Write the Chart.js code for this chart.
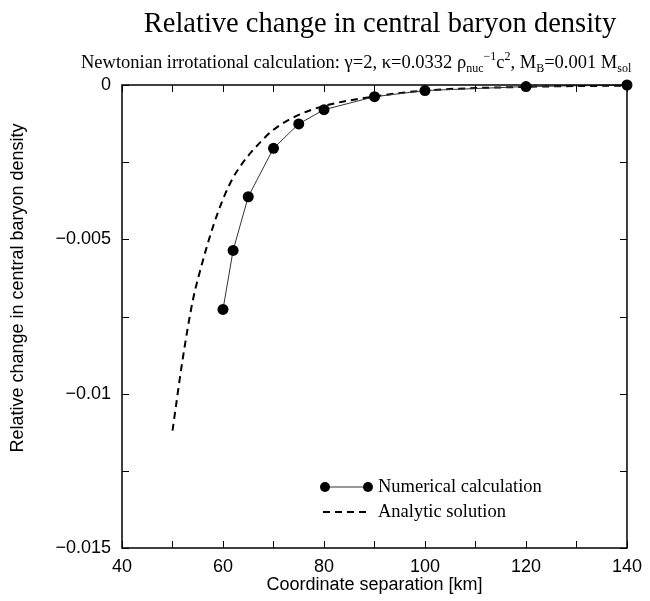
<!DOCTYPE html>
<html>
<head>
<meta charset="utf-8">
<script src="https://cdn.jsdelivr.net/npm/chart.js@4.4.0/dist/chart.umd.min.js"></script>
<style>
    html, body { margin: 0; padding: 0; background: #fff; }
    #wrap { width: 650px; height: 601px; }
</style>
</head>
<body>
<div id="wrap"><canvas id="densityChart"></canvas></div>
<script>
// Numerical calculation (filled dots)
const numSeparation = [60, 62, 65, 70, 75, 80, 90, 100, 120, 140];
const numDensity = [-0.00727, -0.00536, -0.00362, -0.00205, -0.00126, -0.0008, -0.00038, -0.00018, -0.00005, 0];

// Analytic solution (dashed curve)
const anaSeparation = [50, 52, 54, 56, 58, 60, 62, 64, 66, 70, 75, 80, 90, 100, 120, 140];
const anaDensity = [-0.0112, -0.0089, -0.0070, -0.0057, -0.0046, -0.0037, -0.0030, -0.0025, -0.0021, -0.00145, -0.00097, -0.00068, -0.00037, -0.00018, -0.00006, -0.00002];

// Labelled ticks
const xTickLabels = [40, 60, 80, 100, 120, 140];
const yTickLabels = [0, -0.005, -0.01, -0.015];

const seriesNames = ['Numerical calculation', 'Analytic solution'];
const yTitle = 'Relative change in central baryon density';

const serif = '"Liberation Serif", "Times New Roman", serif';
const sans = '"Liberation Sans", Arial, Helvetica, sans-serif';

function hasTick(list, v) {
    return list.some(t => Math.abs(t - v) < 1e-9);
}

// Title, subtitle (with sub/superscripts), y title, frame, inward ticks, legend
const decorPlugin = {
    id: 'decor',
    afterDraw(chart) {
        const ctx = chart.ctx;
        const area = chart.chartArea;
        ctx.save();
        ctx.fillStyle = '#000';
        ctx.strokeStyle = '#000';

        // title
        ctx.font = '28.5px ' + serif;
        ctx.textAlign = 'center';
        ctx.textBaseline = 'alphabetic';
        ctx.fillText('Relative change in central baryon density', 380, 32);

        // subtitle
        const parts = [
            ['Newtonian irrotational calculation: \u03b3=2, \u03ba=0.0332 \u03c1', 'n'],
            ['nuc', 'sub'], ['\u22121', 'sup'], ['c', 'n'], ['2', 'sup'],
            [', M', 'n'], ['B', 'sub'], ['=0.001 M', 'n'], ['sol', 'sub']
        ];
        const fontFor = m => (m === 'n' ? '18.5px ' : '12px ') + serif;
        let x = 81;
        const base = 68;
        ctx.textAlign = 'left';
        parts.forEach(p => {
            ctx.font = fontFor(p[1]);
            const dy = p[1] === 'sub' ? 4 : (p[1] === 'sup' ? -8 : 0);
            ctx.fillText(p[0], x, base + dy);
            x += ctx.measureText(p[0]).width;
        });

        // y axis title
        ctx.save();
        ctx.translate(18, 288);
        ctx.rotate(-Math.PI / 2);
        ctx.font = '18px ' + sans;
        ctx.textAlign = 'center';
        ctx.textBaseline = 'middle';
        ctx.fillText(yTitle, 0, 0);
        ctx.restore();

        // inward ticks on all four sides
        const tl = 7;
        ctx.lineWidth = 1;
        const xs = chart.scales.x, ys = chart.scales.y;
        ctx.beginPath();
        xs.ticks.forEach(t => {
            const px = Math.round(xs.getPixelForValue(t.value)) + 0.5;
            ctx.moveTo(px, area.bottom); ctx.lineTo(px, area.bottom - tl);
            ctx.moveTo(px, area.top); ctx.lineTo(px, area.top + tl);
        });
        ys.ticks.forEach(t => {
            const py = Math.round(ys.getPixelForValue(t.value)) + 0.5;
            ctx.moveTo(area.left, py); ctx.lineTo(area.left + tl, py);
            ctx.moveTo(area.right, py); ctx.lineTo(area.right - tl, py);
        });
        ctx.stroke();

        // frame
        ctx.lineWidth = 1.5;
        ctx.strokeRect(area.left, area.top, area.right - area.left, area.bottom - area.top);

        // legend
        const lx0 = 325, lx1 = 368, ly0 = 487, ly1 = 512;
        ctx.strokeStyle = '#333';
        ctx.lineWidth = 1;
        ctx.beginPath();
        ctx.moveTo(lx0, ly0); ctx.lineTo(lx1, ly0);
        ctx.stroke();
        [lx0, lx1].forEach(px => {
            ctx.beginPath();
            ctx.arc(px, ly0, 5, 0, Math.PI * 2);
            ctx.fill();
        });
        ctx.strokeStyle = '#000';
        ctx.lineWidth = 2;
        ctx.setLineDash([7, 5]);
        ctx.beginPath();
        ctx.moveTo(lx0 - 2, ly1); ctx.lineTo(lx1, ly1);
        ctx.stroke();
        ctx.setLineDash([]);
        ctx.font = '18.5px ' + serif;
        ctx.textBaseline = 'middle';
        ctx.textAlign = 'left';
        ctx.fillText(seriesNames[0], 378, ly0);
        ctx.fillText(seriesNames[1], 378, ly1);

        ctx.restore();
    }
};

const ctx = document.getElementById('densityChart').getContext('2d');
new Chart(ctx, {
    type: 'line',
    data: {
        datasets: [{
            label: seriesNames[0],
            data: numSeparation.map((s, i) => ({ x: s, y: numDensity[i] })),
            borderColor: '#333',
            borderWidth: 1,
            pointRadius: 5.5,
            pointBackgroundColor: '#000',
            pointBorderWidth: 0,
            clip: false
        }, {
            label: seriesNames[1],
            data: anaSeparation.map((s, i) => ({ x: s, y: anaDensity[i] })),
            borderColor: '#000',
            borderWidth: 2,
            borderDash: [7, 5],
            pointRadius: 0,
            cubicInterpolationMode: 'monotone'
        }]
    },
    options: {
        responsive: true,
        maintainAspectRatio: false,
        animation: false,
        layout: { padding: { top: 85, right: 17, left: 0, bottom: 0 } },
        plugins: {
            legend: { display: false },
            title: { display: false },
            tooltip: { enabled: false }
        },
        scales: {
            x: {
                type: 'linear',
                min: 40,
                max: 140,
                border: { display: false },
                grid: { display: false, drawTicks: false },
                ticks: {
                    stepSize: 10,
                    padding: 8,
                    color: '#000',
                    maxRotation: 0,
                    autoSkip: false,
                    font: { family: sans, size: 18 },
                    callback: v => hasTick(xTickLabels, v) ? String(v) : ''
                },
                title: {
                    display: true,
                    text: 'Coordinate separation [km]',
                    color: '#000',
                    font: { family: sans, size: 18 },
                    padding: { top: 0, bottom: 5 }
                },
                afterFit(scale) { scale.height = 53; }
            },
            y: {
                min: -0.015,
                max: 0,
                border: { display: false },
                grid: { display: false, drawTicks: false },
                ticks: {
                    stepSize: 0.0025,
                    padding: 11,
                    color: '#000',
                    autoSkip: false,
                    font: { family: sans, size: 18 },
                    callback: v => {
                        if (!hasTick(yTickLabels, v)) return '';
                        return Math.abs(v) < 1e-12 ? '0' : '\u2212' + Math.abs(v);
                    }
                },
                afterFit(scale) { scale.width = 122; }
            }
        }
    },
    plugins: [decorPlugin]
});
</script>
</body>
</html>
